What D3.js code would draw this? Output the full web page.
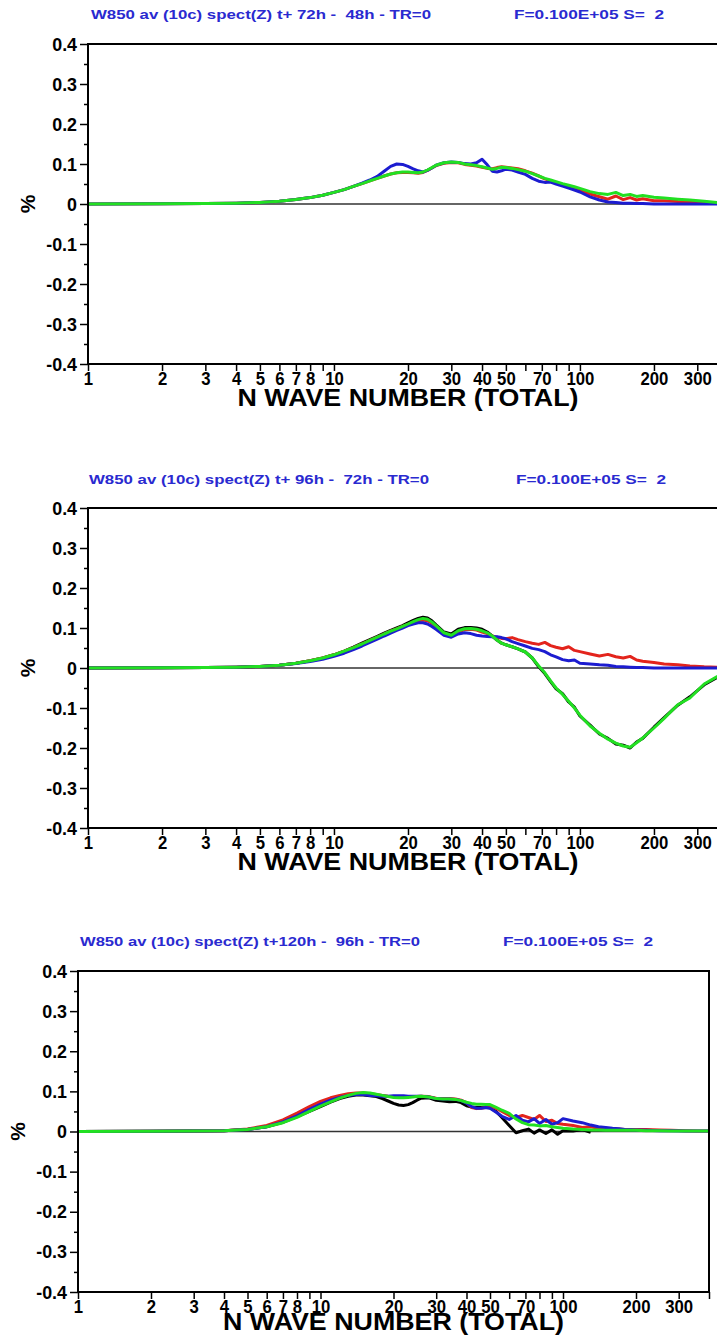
<!DOCTYPE html>
<html>
<head>
<meta charset="utf-8">
<script src="https://cdn.jsdelivr.net/npm/d3@7"></script>
<style>
  body { margin: 0; background: #fff; }
  svg { display: block; }
  text { font-family: "Liberation Sans", Arial, Helvetica, sans-serif; font-weight: bold; }
</style>
</head>
<body>
<svg id="chart" width="717" height="1337"></svg>
<script>
// Total wave number grid shared by every spectrum
const waveN = [1,2,3,4,5,6,7,8,9,10,11,12,13,14,15,16,17,18,19,20,21,22,23,24,25,26,28,30,32,34,36,38,40,42,44,46,48,50,53,56,60,64,68,72,76,80,85,90,95,100,110,120,130,140,150,160,170,180,200,220,250,280,320,360,400];

const xTickValues = [1,2,3,4,5,6,7,8,9,10,20,30,40,50,60,70,80,90,100,200,300,400];
const xTickLabels = [1,2,3,4,5,6,7,8,10,20,30,40,50,70,100,200,300];
const yTicks = [-0.4,-0.3,-0.2,-0.1,0,0.1,0.2,0.3,0.4];
const yMinorTicks = [-0.35,-0.25,-0.15,-0.05,0.05,0.15,0.25,0.35];

const panelTitles = [
  "W850 av (10c) spect(Z) t+ 72h -  48h - TR=0",
  "W850 av (10c) spect(Z) t+ 96h -  72h - TR=0",
  "W850 av (10c) spect(Z) t+120h -  96h - TR=0"
];
const panelInfo = "F=0.100E+05 S=  2";
const xAxisTitle = "N WAVE NUMBER (TOTAL)";
const yAxisTitle = "%";

// t+72h - 48h
const red72 = [0,0.0005,0.001,0.002,0.004,0.007,0.011,0.016,0.022,0.029,
  0.036,0.044,0.051,0.058,0.064,0.07,0.075,0.078,0.079,0.079,
  0.078,0.077,0.079,0.084,0.09,0.096,0.102,0.104,0.103,0.099,
  0.097,0.095,0.092,0.089,0.088,0.091,0.093,0.092,0.09,0.088,
  0.083,0.077,0.07,0.063,0.058,0.053,0.047,0.043,0.04,0.034,
  0.025,0.018,0.012,0.02,0.011,0.016,0.01,0.013,0.008,0.008,
  0.006,0.005,0.004,0.002,0.001];
const blue72 = [0,0.0005,0.001,0.002,0.004,0.007,0.011,0.016,0.022,0.029,
  0.036,0.044,0.052,0.06,0.069,0.082,0.094,0.1,0.099,0.094,
  0.088,0.083,0.08,0.084,0.09,0.097,0.103,0.105,0.104,0.101,
  0.1,0.103,0.112,0.098,0.082,0.08,0.083,0.087,0.085,0.08,
  0.074,0.064,0.057,0.054,0.055,0.05,0.045,0.04,0.035,0.03,
  0.018,0.01,0.005,0.004,0.002,0.002,0.001,0.001,0,0,
  0,0,0,0,0];
const green72 = [0,0.0005,0.001,0.002,0.004,0.007,0.011,0.016,0.022,0.029,
  0.036,0.044,0.051,0.058,0.064,0.07,0.075,0.078,0.08,0.08,
  0.079,0.078,0.08,0.085,0.091,0.097,0.103,0.105,0.104,0.1,
  0.098,0.096,0.093,0.09,0.087,0.089,0.092,0.091,0.089,0.086,
  0.082,0.076,0.07,0.064,0.06,0.056,0.051,0.047,0.043,0.039,
  0.031,0.026,0.024,0.029,0.021,0.024,0.019,0.021,0.017,0.015,
  0.012,0.01,0.007,0.004,0.002];

// t+96h - 72h
const black96 = [0,0.0005,0.001,0.002,0.004,0.007,0.012,0.018,0.025,0.033,
  0.042,0.052,0.062,0.071,0.079,0.087,0.094,0.1,0.106,0.113,
  0.119,0.124,0.127,0.125,0.118,0.108,0.09,0.085,0.097,0.101,
  0.101,0.1,0.097,0.09,0.08,0.07,0.062,0.058,0.053,0.048,
  0.04,0.025,0.003,-0.014,-0.034,-0.052,-0.064,-0.085,-0.098,-0.12,
  -0.143,-0.165,-0.176,-0.19,-0.193,-0.2,-0.185,-0.176,-0.148,-0.124,
  -0.093,-0.072,-0.042,-0.024,-0.012];
const red96 = [0,0.0005,0.001,0.002,0.004,0.007,0.012,0.018,0.025,0.033,
  0.042,0.051,0.06,0.069,0.077,0.085,0.092,0.098,0.104,0.109,
  0.114,0.118,0.12,0.118,0.112,0.104,0.086,0.08,0.09,0.096,
  0.097,0.095,0.09,0.086,0.08,0.077,0.074,0.073,0.076,0.071,
  0.066,0.062,0.059,0.064,0.056,0.052,0.048,0.053,0.044,0.041,
  0.035,0.03,0.034,0.028,0.025,0.029,0.02,0.017,0.014,0.01,
  0.008,0.005,0.003,0.002,0.001];
const blue96 = [0,0.0005,0.001,0.002,0.004,0.007,0.011,0.016,0.022,0.029,
  0.037,0.046,0.055,0.064,0.072,0.08,0.087,0.094,0.1,0.106,
  0.11,0.113,0.113,0.11,0.104,0.097,0.082,0.077,0.085,0.088,
  0.086,0.082,0.08,0.079,0.078,0.078,0.076,0.073,0.066,0.061,
  0.055,0.049,0.046,0.041,0.033,0.028,0.021,0.018,0.02,0.012,
  0.01,0.008,0.007,0.004,0.003,0.002,0.001,0.001,0,0,
  0,0,0,0,0];
const green96 = [0,0.0005,0.001,0.002,0.004,0.007,0.012,0.018,0.025,0.033,
  0.042,0.051,0.06,0.069,0.077,0.085,0.092,0.098,0.104,0.11,
  0.116,0.121,0.124,0.122,0.115,0.106,0.088,0.082,0.093,0.098,
  0.099,0.097,0.093,0.088,0.08,0.07,0.062,0.058,0.053,0.048,
  0.04,0.025,0.005,-0.012,-0.032,-0.05,-0.066,-0.083,-0.1,-0.118,
  -0.145,-0.163,-0.178,-0.188,-0.195,-0.198,-0.187,-0.175,-0.15,-0.126,
  -0.092,-0.075,-0.04,-0.022,-0.01];

// t+120h - 96h
const black120 = [0,0.0005,0.001,0.002,0.005,0.012,0.023,0.037,0.05,0.062,
  0.073,0.082,0.088,0.091,0.091,0.089,0.087,0.082,0.076,0.07,
  0.066,0.065,0.067,0.072,0.078,0.083,0.084,0.078,0.076,0.074,
  0.075,0.072,0.064,0.061,0.06,0.06,0.06,0.059,0.05,0.035,
  0.015,-0.003,0.002,0.006,-0.004,0.004,-0.005,0.004,-0.007,0.002,
  0.001,0.005,-0.002,null,null,null,null,null,null,null,
  null,null,null,null,null];
const red120 = [0,0.0005,0.001,0.002,0.006,0.015,0.029,0.046,0.062,0.075,
  0.084,0.09,0.094,0.096,0.096,0.094,0.092,0.09,0.088,0.087,
  0.087,0.087,0.087,0.087,0.087,0.088,0.087,0.083,0.082,0.082,
  0.081,0.078,0.072,0.06,0.057,0.058,0.06,0.062,0.058,0.05,
  0.04,0.035,0.04,0.035,0.03,0.04,0.025,0.028,0.02,0.018,
  0.015,0.01,0.012,0.008,0.008,0.006,0.006,0.005,0.005,0.005,
  0.004,0.003,0.002,0.001,0.001];
const blue120 = [0,0.0005,0.001,0.002,0.005,0.012,0.024,0.039,0.055,0.068,
  0.078,0.085,0.09,0.092,0.092,0.09,0.089,0.088,0.088,0.089,
  0.089,0.089,0.088,0.088,0.088,0.088,0.086,0.082,0.081,0.081,
  0.08,0.077,0.071,0.062,0.058,0.058,0.06,0.058,0.048,0.038,
  0.03,0.04,0.028,0.024,0.032,0.02,0.03,0.018,0.022,0.032,
  0.026,0.022,0.016,0.012,0.01,0.008,0.007,0.005,0.004,0.003,
  0.002,0.002,0.001,0.001,0.001];
const green120 = [0,0.0005,0.001,0.002,0.005,0.012,0.022,0.035,0.05,0.063,
  0.074,0.083,0.09,0.095,0.097,0.096,0.093,0.09,0.087,0.085,
  0.084,0.084,0.085,0.086,0.087,0.088,0.086,0.082,0.081,0.081,
  0.08,0.077,0.073,0.07,0.068,0.068,0.067,0.067,0.06,0.053,
  0.045,0.031,0.022,0.017,0.016,0.014,0.015,0.012,0.01,0.008,
  0.006,0.005,0.004,0.004,0.003,0.003,0.003,0.003,0.003,0.002,
  0.002,0.001,0.001,0.001,0.001];

const seriesColors = { black: "#000000", red: "#e3241c", blue: "#1c1cd0", green: "#22e022" };

const panels = [
  { title: panelTitles[0], series: [["red", red72], ["blue", blue72], ["green", green72]],
    left: 88, right: 728, top: 44, bottom: 364, titleY: 19, titleX: 91, infoX: 514, xTitleDy: 42 },
  { title: panelTitles[1], series: [["black", black96], ["red", red96], ["blue", blue96], ["green", green96]],
    left: 88, right: 728, top: 508, bottom: 828, titleY: 484, titleX: 89, infoX: 516, xTitleDy: 42 },
  { title: panelTitles[2], series: [["black", black120], ["red", red120], ["blue", blue120], ["green", green120]],
    left: 78, right: 709, top: 971, bottom: 1292, titleY: 946, titleX: 80, infoX: 503, xTitleDy: 38 }
];

const svg = d3.select("#chart");
const tickFont = 19;
const tickSquash = 0.88;

panels.forEach((p, i) => {
  const g = svg.append("g");
  const x = d3.scaleLog().domain([1, 400]).range([p.left, p.right]);
  const y = d3.scaleLinear().domain([-0.4, 0.4]).range([p.bottom, p.top]);

  // heading
  g.append("text").attr("x", p.titleX).attr("y", p.titleY)
    .attr("fill", "#2a2ad0").attr("font-size", 13)
    .attr("textLength", 340).attr("lengthAdjust", "spacingAndGlyphs")
    .style("white-space", "pre").text(p.title);
  g.append("text").attr("x", p.infoX).attr("y", p.titleY)
    .attr("fill", "#2a2ad0").attr("font-size", 13)
    .attr("textLength", 150).attr("lengthAdjust", "spacingAndGlyphs")
    .style("white-space", "pre").text(panelInfo);

  const clipId = "plot-clip-" + i;
  g.append("clipPath").attr("id", clipId).append("rect")
    .attr("x", p.left).attr("y", p.top)
    .attr("width", p.right - p.left).attr("height", p.bottom - p.top);

  // zero reference line
  g.append("line")
    .attr("x1", p.left).attr("x2", p.right)
    .attr("y1", y(0)).attr("y2", y(0))
    .attr("stroke", "#333").attr("stroke-width", 1.5);

  // spectra
  const line = d3.line()
    .defined(d => d.v !== null)
    .x(d => x(d.n)).y(d => y(d.v));
  const curves = g.append("g").attr("clip-path", `url(#${clipId})`);
  p.series.forEach(([name, vals]) => {
    const pts = waveN.map((n, k) => ({ n, v: vals[k] }));
    curves.append("path").datum(pts)
      .attr("d", line)
      .attr("fill", "none")
      .attr("stroke", seriesColors[name])
      .attr("stroke-width", 3)
      .attr("stroke-linejoin", "round");
  });

  // frame
  g.append("rect")
    .attr("x", p.left).attr("y", p.top)
    .attr("width", p.right - p.left).attr("height", p.bottom - p.top)
    .attr("fill", "none").attr("stroke", "#000").attr("stroke-width", 2);

  // x axis
  const labelSet = new Set(xTickLabels);
  const xAxis = d3.axisBottom(x)
    .tickValues(xTickValues)
    .tickSize(7).tickPadding(1)
    .tickFormat(d => labelSet.has(d) ? String(d) : "");
  const gx = g.append("g").attr("transform", `translate(0,${p.bottom})`).call(xAxis);
  gx.select(".domain").remove();
  gx.selectAll(".tick line").attr("stroke", "#000").attr("stroke-width", 1.5);
  gx.selectAll(".tick text").attr("fill", "#000")
    .attr("font-family", "Liberation Sans, Arial, sans-serif")
    .attr("font-weight", "bold").attr("font-size", tickFont)
    .attr("transform", `scale(${tickSquash},1)`);

  // y axis
  const yAxis = d3.axisLeft(y)
    .tickValues(yTicks).tickSize(8).tickPadding(3)
    .tickFormat(d => d === 0 ? "0" : d.toFixed(1));
  const gy = g.append("g").attr("transform", `translate(${p.left},0)`).call(yAxis);
  gy.select(".domain").remove();
  gy.selectAll(".tick line").attr("stroke", "#000").attr("stroke-width", 1.5);
  gy.selectAll(".tick text").attr("fill", "#000")
    .attr("font-family", "Liberation Sans, Arial, sans-serif")
    .attr("font-weight", "bold").attr("font-size", tickFont)
    .attr("x", -11 / 0.94)
    .attr("transform", "scale(0.94,1)");

  const yMinor = d3.axisLeft(y).tickValues(yMinorTicks).tickSize(4).tickFormat("");
  const gym = g.append("g").attr("transform", `translate(${p.left},0)`).call(yMinor);
  gym.select(".domain").remove();
  gym.selectAll(".tick line").attr("stroke", "#000").attr("stroke-width", 1.5);

  // axis titles
  g.append("text")
    .attr("x", (p.left + p.right) / 2).attr("y", p.bottom + p.xTitleDy)
    .attr("text-anchor", "middle").attr("font-size", 24)
    .attr("textLength", 341).attr("lengthAdjust", "spacingAndGlyphs")
    .text(xAxisTitle);
  g.append("text")
    .attr("transform", `translate(${p.left - 60},${y(0)}) rotate(-90)`)
    .attr("text-anchor", "middle").attr("dy", "0.35em").attr("font-size", 21)
    .text(yAxisTitle);
});
</script>
</body>
</html>
